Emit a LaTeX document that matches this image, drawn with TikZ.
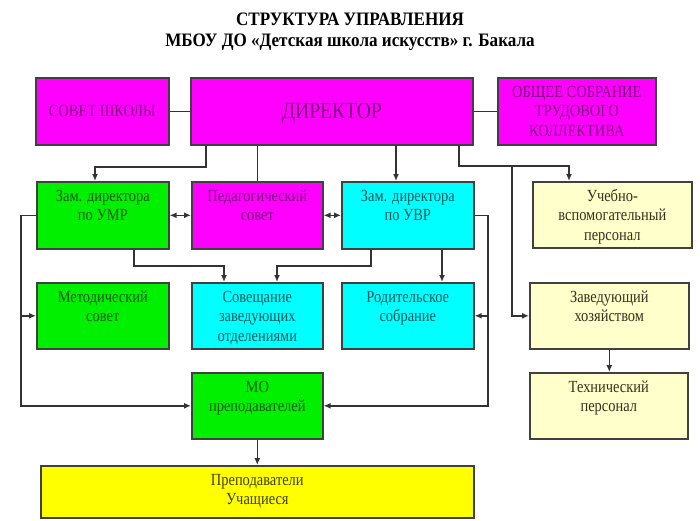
\documentclass[tikz,border=0pt]{standalone}
\usepackage{fontspec}
\setmainfont{Liberation Serif}[FakeStretch=0.85]
\newfontfamily\titlefont{Liberation Serif}[FakeStretch=0.9]
\usetikzlibrary{calc,arrows.meta}
\definecolor{bord}{HTML}{404040}
\definecolor{lin}{HTML}{333333}
\definecolor{mag}{HTML}{FF00FF}
\definecolor{magtxt}{HTML}{7A0A7A}
\definecolor{grn}{HTML}{00F000}
\definecolor{grntxt}{HTML}{0A5A0A}
\definecolor{cya}{HTML}{00FFFF}
\definecolor{cyatxt}{HTML}{0A5A5A}
\definecolor{lye}{HTML}{FFFFCC}
\definecolor{lyetxt}{HTML}{33331A}
\definecolor{yel}{HTML}{FFFF00}
\definecolor{yeltxt}{HTML}{404000}
\tikzset{
  basebox/.style={draw=bord, line width=1.6pt, inner sep=0pt, rectangle},
  magbox/.style={basebox, fill=mag},
  grnbox/.style={basebox, fill=grn},
  cyabox/.style={basebox, fill=cya},
  lyebox/.style={basebox, fill=lye},
  yelbox/.style={basebox, fill=yel},
  basetxt/.style={inner sep=0pt, align=center, font=\fontsize{17}{19.5}\selectfont},
  magboxtxt/.style={basetxt, text=magtxt},
  grnboxtxt/.style={basetxt, text=grntxt},
  cyaboxtxt/.style={basetxt, text=cyatxt},
  lyeboxtxt/.style={basetxt, text=lyetxt},
  yelboxtxt/.style={basetxt, text=yeltxt},
  conn/.style={draw=lin, line width=1.4pt},
  arr/.tip={Latex[length=7pt,width=6pt]},
  titletxt/.style={anchor=base, inner sep=0pt, font=\titlefont\bfseries\fontsize{19}{22}\selectfont}
}
\newcommand\mkbox[7]{%
  \node[#6, anchor=north west, minimum width={(#4)-(#2)}, minimum height={(#5)-(#3)}] (#1) at (#2,#3) {};
  \node[#6txt, anchor=north] (#1t) at ([yshift=-7pt]#1.north) {\rule{0pt}{13pt}#7};
}
\begin{document}
\begin{tikzpicture}[x=1pt,y=-1pt]
\useasboundingbox[fill=white] (0,0) rectangle (700,520);
% title
\node[titletxt] (t1) at (350,25) {СТРУКТУРА УПРАВЛЕНИЯ};
\node[titletxt] (t2) at (350,46) {МБОУ ДО «Детская школа искусств» г. Бакала};
% top row
\node[magbox, anchor=north west, minimum width=133, minimum height=67] (sovet) at (35,77) {};
\node[magboxtxt] (sovett) at (sovet.center) {СОВЕТ ШКОЛЫ};
\node[magbox, anchor=north west, minimum width=282, minimum height=67] (dir) at (190,77) {};
\node[magboxtxt, font=\fontsize{23}{26}\selectfont] (dirt) at ([yshift=-2pt]dir.center) {ДИРЕКТОР};
\mkbox{obsh}{497}{77}{655}{144}{magbox}{ОБЩЕЕ СОБРАНИЕ\\ТРУДОВОГО\\КОЛЛЕКТИВА}
% row 2
\mkbox{umr}{36}{181}{168}{248}{grnbox}{Зам. директора\\по УМР}
\mkbox{ped}{191}{181}{322}{248}{magbox}{Педагогический\\совет}
\mkbox{uvr}{341}{181}{473}{248}{cyabox}{Зам. директора\\по УВР}
\mkbox{ucheb}{532}{181}{691}{247}{lyebox}{Учебно-\\вспомогательный\\персонал}
% row 3
\mkbox{metod}{36}{282}{168}{348}{grnbox}{Методический\\совет}
\mkbox{soves}{191}{282}{322}{348}{cyabox}{Совещание\\заведующих\\отделениями}
\mkbox{rodit}{341}{282}{473}{348}{cyabox}{Родительское\\собрание}
\mkbox{zaved}{529}{282}{688}{348}{lyebox}{Заведующий\\хозяйством}
% row 4
\mkbox{mo}{191}{372}{322}{438}{grnbox}{МО\\преподавателей}
\mkbox{tehn}{529}{372}{687}{438}{lyebox}{Технический\\персонал}
\mkbox{prep}{40}{465}{473}{517}{yelbox}{Преподаватели\\Учащиеся}
% helper coordinates
\coordinate (d1) at ($(dir.south west)+(16,0)$);
\coordinate (a1) at ($(umr.north west)+(59,0)$);
\coordinate (d3) at ($(uvr.north west)+(55,0)$);
\coordinate (d4) at ($(dir.south west)+(269,0)$);
\coordinate (a4) at ($(ucheb.north west)+(37,0)$);
\coordinate (jz) at (512,166);
\coordinate (lx) at (21,0);
\coordinate (rx) at (488,0);
\coordinate (u1) at ($(umr.south west)+(98,0)$);
\coordinate (s1) at ($(soves.north west)+(33,0)$);
\coordinate (u2) at ($(uvr.south west)+(30,0)$);
\coordinate (s2) at ($(soves.north west)+(86,0)$);
\coordinate (u3) at ($(uvr.south west)+(101,0)$);
% connectors
\draw[conn] (sovet.east) -- (sovet.east -| dir.west);
\draw[conn] (obsh.west |- dir.east) -- (dir.east);
\draw[conn,-arr] (d1) -- (d1 |- 0,167) -| (a1);
\draw[conn] (ped.north |- dir.south) -- (ped.north);
\draw[conn,-arr] (d3 |- dir.south) -- (d3);
\draw[conn,-arr] (d4) -- (d4 |- 0,166) -| (a4);
\draw[conn,-arr] (jz) |- (zaved.west);
\draw[conn,arr-arr] (umr.east) -- (ped.west);
\draw[conn,arr-arr] (ped.east) -- (uvr.west);
\draw[conn,-arr] (umr.west) -- (lx |- umr.west) |- (mo.west);
\draw[conn,-arr] (lx |- metod.west) -- (metod.west);
\draw[conn,-arr] (uvr.east) -- (rx |- uvr.east) |- (mo.east);
\draw[conn,-arr] (rx |- rodit.east) -- (rodit.east);
\draw[conn,-arr] (u1) -- (u1 |- 0,266) -| (s1);
\draw[conn,-arr] (u2) -- (u2 |- 0,266) -| (s2);
\draw[conn,-arr] (u3) -- (u3 |- rodit.north);
\draw[conn,-arr] (zaved.south) -- (zaved.south |- tehn.north);
\draw[conn,-arr] (mo.south) -- (prep.north);
\end{tikzpicture}
\end{document}
